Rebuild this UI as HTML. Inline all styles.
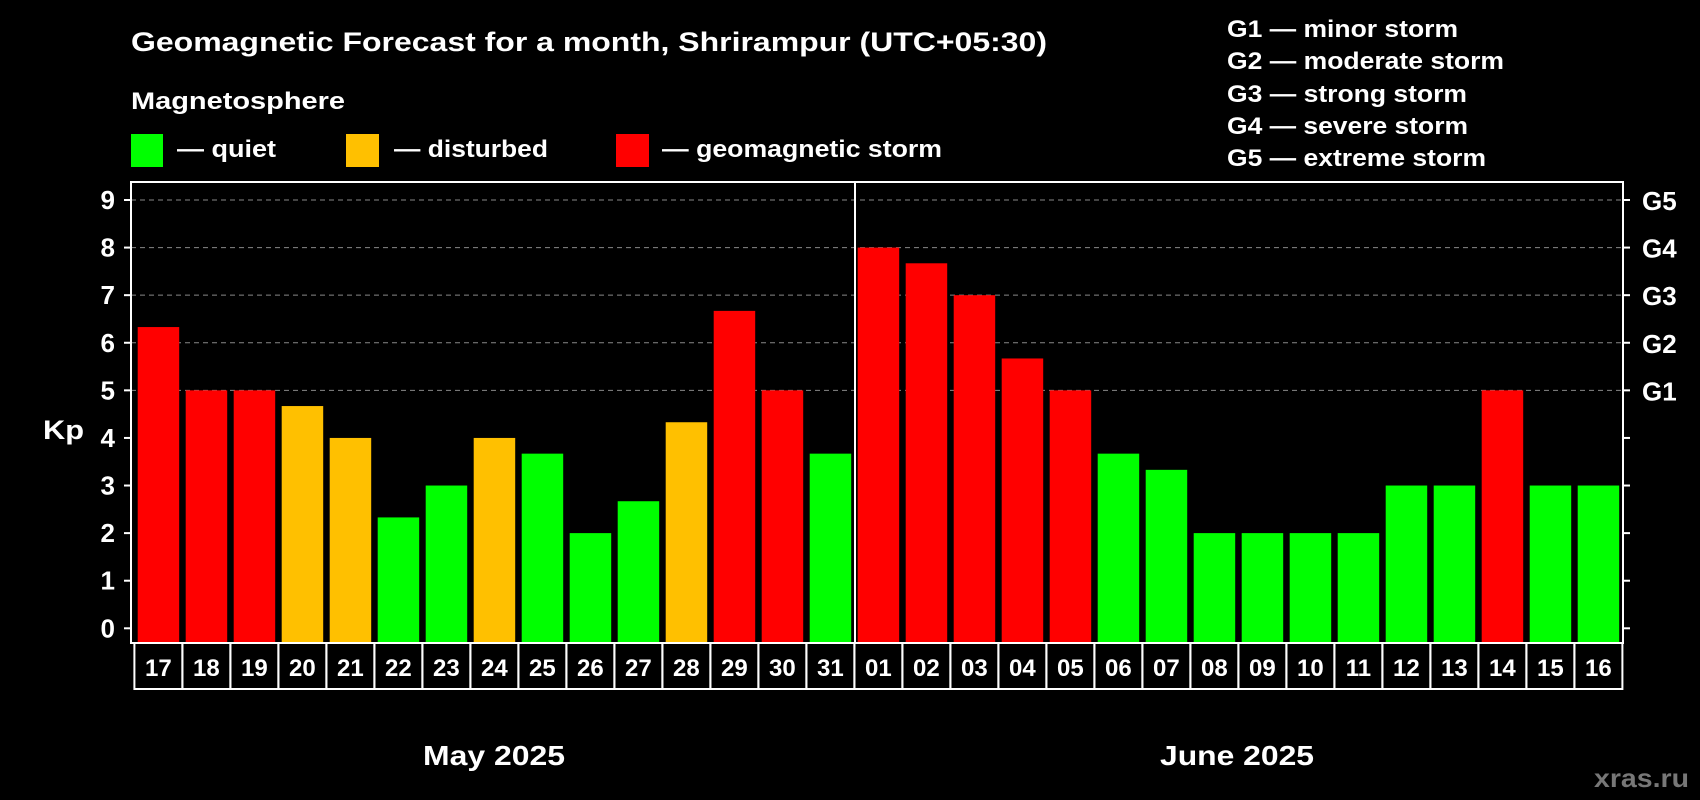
<!DOCTYPE html>
<html><head><meta charset="utf-8"><style>
body{margin:0;background:#000;}
svg{display:block;font-family:"Liberation Sans",Arial,sans-serif;font-weight:bold;}
</style></head><body>
<svg id="c" width="1700" height="800" viewBox="0 0 1700 800">
<rect width="1700" height="800" fill="#000"/>
<text x="131" y="51" fill="#fff" font-size="27" textLength="916" lengthAdjust="spacingAndGlyphs">Geomagnetic Forecast for a month, Shrirampur (UTC+05:30)</text>
<text x="131" y="109" fill="#fff" font-size="24" textLength="214" lengthAdjust="spacingAndGlyphs">Magnetosphere</text>
<g><rect x="131" y="134" width="32" height="33" fill="#00ff00"/><text x="177" y="157" fill="#fff" font-size="24" textLength="99" lengthAdjust="spacingAndGlyphs">— quiet</text></g>
<g><rect x="346" y="134" width="33" height="33" fill="#ffc000"/><text x="394" y="157" fill="#fff" font-size="24" textLength="154" lengthAdjust="spacingAndGlyphs">— disturbed</text></g>
<g><rect x="616" y="134" width="33" height="33" fill="#ff0000"/><text x="662" y="157" fill="#fff" font-size="24" textLength="280" lengthAdjust="spacingAndGlyphs">— geomagnetic storm</text></g>
<g fill="#fff" font-size="24">
<text x="1227" y="37" textLength="231" lengthAdjust="spacingAndGlyphs">G1 — minor storm</text>
<text x="1227" y="69" textLength="277" lengthAdjust="spacingAndGlyphs">G2 — moderate storm</text>
<text x="1227" y="102" textLength="240" lengthAdjust="spacingAndGlyphs">G3 — strong storm</text>
<text x="1227" y="134" textLength="241" lengthAdjust="spacingAndGlyphs">G4 — severe storm</text>
<text x="1227" y="166" textLength="259" lengthAdjust="spacingAndGlyphs">G5 — extreme storm</text>
</g>
<text x="43" y="439" fill="#fff" font-size="27" textLength="41" lengthAdjust="spacingAndGlyphs">Kp</text>
<text x="423" y="765" fill="#fff" font-size="28" textLength="142" lengthAdjust="spacingAndGlyphs">May 2025</text>
<text x="1160" y="765" fill="#fff" font-size="28" textLength="154" lengthAdjust="spacingAndGlyphs">June 2025</text>
<text x="1594" y="787" fill="#777" font-size="26" textLength="95" lengthAdjust="spacingAndGlyphs">xras.ru</text>
<g id="grid"></g><g id="bars"></g><g id="xlab"></g>
<rect x="131" y="182" width="1492" height="461" fill="none" stroke="#fff" stroke-width="2"/>
<line x1="855" y1="182" x2="855" y2="643" stroke="#fff" stroke-width="2"/>
</svg>
<script>
const days=["17","18","19","20","21","22","23","24","25","26","27","28","29","30","31","01","02","03","04","05","06","07","08","09","10","11","12","13","14","15","16"];
const kp=[6.33,5,5,4.67,4,2.33,3,4,3.67,2,2.67,4.33,6.67,5,3.67,8,7.67,7,5.67,5,3.67,3.33,2,2,2,2,3,3,5,3,3];
const yTicks=[0,1,2,3,4,5,6,7,8,9];
const gLabels=["G1","G2","G3","G4","G5"];
const NS="http://www.w3.org/2000/svg";
const y0=628.3,yu=47.59,x0=137.7,pitch=48,bw=41.5;
const Y=v=>y0-v*yu, X=i=>x0+i*pitch;
function mk(t,a,p){const e=document.createElementNS(NS,t);for(const k in a)e.setAttribute(k,a[k]);p.appendChild(e);return e;}
const grid=document.getElementById('grid'),bars=document.getElementById('bars'),xl=document.getElementById('xlab');
yTicks.forEach(v=>{
  const y=Y(v);
  if(v>=5){const l=mk('line',{x1:131,x2:1623,y1:y,y2:y,stroke:'#888','stroke-dasharray':'5,4','stroke-width':1},grid);
  
  }
  mk('line',{x1:124,x2:131,y1:y,y2:y,stroke:'#fff','stroke-width':2},grid);
  mk('line',{x1:1623,x2:1630,y1:y,y2:y,stroke:'#fff','stroke-width':2},grid);
  const t=mk('text',{x:115,y:y+9,fill:'#fff','font-size':26,'text-anchor':'end'},grid);t.textContent=v;
  
  
  if(v>=5){const g=mk('text',{x:1642,y:y+10,fill:'#fff','font-size':26},grid);g.textContent=gLabels[v-5];
  
  }
});
kp.forEach((v,i)=>{
  const c=v>=5?'#ff0000':(v>=4?'#ffc000':'#00ff00');
  const r=mk('rect',{x:X(i),y:Y(v),width:bw,height:643-Y(v),fill:c},bars);
  
  
  const bx=X(i)-3.3;
  const b=mk('rect',{x:bx,y:643,width:pitch,height:46,fill:'none',stroke:'#fff','stroke-width':2},xl);
  
  
  const t=mk('text',{x:bx+pitch/2,y:676,fill:'#fff','font-size':24,'text-anchor':'middle'},xl);t.textContent=days[i];
  
  
});
</script>
</body></html>
